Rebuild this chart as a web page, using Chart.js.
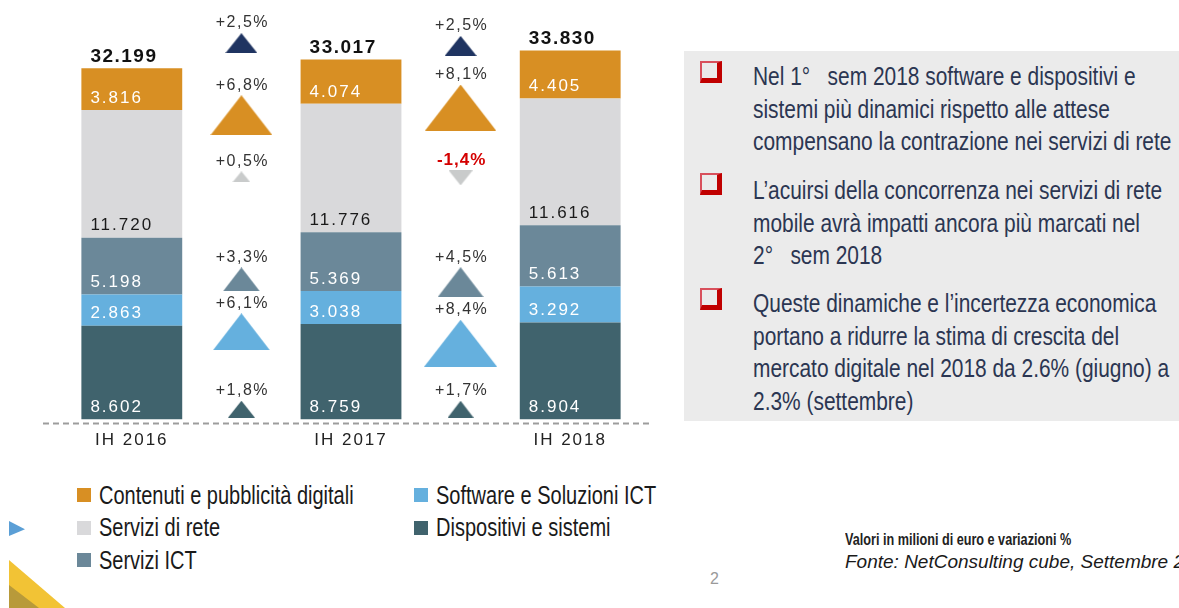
<!DOCTYPE html>
<html lang="it">
<head>
<meta charset="utf-8">
<title>Mercato digitale IH 2016-2018</title>
<script src="https://cdn.jsdelivr.net/npm/chart.js@4.4.1/dist/chart.umd.min.js"></script>
<style>
  html, body { margin: 0; padding: 0; background: #fff; }
  body { width: 1179px; height: 608px; position: relative; overflow: hidden; font-family: "Liberation Sans", Arial, sans-serif; }
  #chartBox { position: absolute; left: 0; top: 0; width: 680px; height: 470px; }
  #panel { position: absolute; left: 684px; top: 51px; width: 495px; height: 370px; background: #ebebeb; overflow: hidden; }
  .bullet { position: absolute; left: 16px; width: 15px; height: 15px; border: 2px solid #d8505c; border-right: 5px solid #c00000; border-bottom: 5px solid #c00000; }
  .narrow { transform-origin: 0 0; white-space: nowrap; }
  .para { position: absolute; left: 69px; font: 25.5px/32.5px "Liberation Sans", Arial, sans-serif; color: #2b3652; transform: scaleX(0.82); }
  #legend { position: absolute; left: 77px; top: 479px; display: grid; grid-template-columns: 337px auto; grid-template-rows: repeat(3, 32.5px); grid-auto-flow: column; }
  #legend div { display: flex; align-items: center; white-space: nowrap; }
  #legend span.box { display: inline-block; width: 14px; height: 14px; margin-right: 8px; flex: none; }
  #legend span.name { display: inline-block; font: 25px "Liberation Sans", Arial, sans-serif; color: #1a1a1a; transform: scaleX(0.8); transform-origin: 0 50%; }
  #unit { position: absolute; left: 845px; top: 531px; font: bold 16px "Liberation Sans", Arial, sans-serif; color: #222; transform: scaleX(0.79); }
  #source { position: absolute; left: 845px; top: 551px; font: italic 19px "Liberation Sans", Arial, sans-serif; color: #1a1a1a; white-space: nowrap; }
  #page { position: absolute; left: 710px; top: 570px; font: 16px "Liberation Sans", Arial, sans-serif; color: #9a9a9a; }
  .deco { position: absolute; }
</style>
</head>
<body>
<div id="chartBox"><canvas id="marketChart"></canvas></div>

<div id="panel">
  <div class="bullet" style="top:10px"></div>
  <div class="para narrow" style="top:9px">Nel 1°&nbsp;&nbsp; sem 2018 software e dispositivi e<br>sistemi più dinamici rispetto alle attese<br>compensano la contrazione nei servizi di rete</div>
  <div class="bullet" style="top:122px"></div>
  <div class="para narrow" style="top:123px">L’acuirsi della concorrenza nei servizi di rete<br>mobile avrà impatti ancora più marcati nel<br>2°&nbsp;&nbsp; sem 2018</div>
  <div class="bullet" style="top:237px"></div>
  <div class="para narrow" style="top:236px">Queste dinamiche e l’incertezza economica<br>portano a ridurre la stima di crescita del<br>mercato digitale nel 2018 da 2.6% (giugno) a<br>2.3% (settembre)</div>
</div>

<div id="legend"></div>
<div id="unit" class="narrow">Valori in milioni di euro e variazioni %</div>
<div id="source">Fonte: NetConsulting cube, Settembre 2018</div>
<div id="page">2</div>

<div class="deco" style="left:9px;top:521px;width:16px;height:15px;background:#5b9fd6;clip-path:polygon(0 0,100% 55%,0 100%)"></div>
<div class="deco" style="left:9px;top:560px;width:56px;height:48px;background:#f2c335;clip-path:polygon(0 0,100% 100%,0 100%)"></div>
<div class="deco" style="left:9px;top:585px;width:30px;height:23px;background:#b89a3a;clip-path:polygon(0 0,100% 100%,0 100%)"></div>

<script>
// categories on the x axis and the two change slots between them
const categories = ['IH 2016', 'IH 2017', 'IH 2018'];
const changeSlots = ['var. 2016-2017', 'var. 2017-2018'];

// values in millions of euro, bottom to top of each bar
const dispositivi = [8602, 8759, 8904];
const software = [2863, 3038, 3292];
const serviziICT = [5198, 5369, 5613];
const serviziRete = [11720, 11776, 11616];
const contenuti = [3816, 4074, 4405];
const totals = [32199, 33017, 33830];

// year on year change, %
const growthDispositivi = [1.8, 1.7];
const growthSoftware = [6.1, 8.4];
const growthICT = [3.3, 4.5];
const growthRete = [0.5, -1.4];
const growthContenuti = [6.8, 8.1];
const growthTotal = [2.5, 2.5];

// layout: vertical slot of each change marker, in axis units
const markerLevels = {
  dispositivi: [950, 950],
  software: [8050, 7000],
  ict: [12850, 12600],
  rete: [22250, 22150],
  contenuti: [27900, 28600],
  total: [34500, 34250]
};
const Y_MAX = 38000;

const series = [
  { label: 'Dispositivi e sistemi', values: dispositivi, growth: growthDispositivi, levels: markerLevels.dispositivi, color: '#40636d', marker: '#40636d', text: '#ffffff' },
  { label: 'Software e Soluzioni ICT', values: software, growth: growthSoftware, levels: markerLevels.software, color: '#65b0de', marker: '#65b0de', text: '#ffffff' },
  { label: 'Servizi ICT', values: serviziICT, growth: growthICT, levels: markerLevels.ict, color: '#6b8899', marker: '#6b8899', text: '#ffffff' },
  { label: 'Servizi di rete', values: serviziRete, growth: growthRete, levels: markerLevels.rete, color: '#d9d9db', marker: '#c9cbcb', text: '#1a1a1a' },
  { label: 'Contenuti e pubblicità digitali', values: contenuti, growth: growthContenuti, levels: markerLevels.contenuti, color: '#d88f23', marker: '#d88f23', text: '#ffffff' }
];
const legendOrder = [4, 3, 2, 1, 0];

const labels = [categories[0], changeSlots[0], categories[1], changeSlots[1], categories[2]];

function fmtValue(v) {
  return String(v).replace(/\B(?=(\d{3})+(?!\d))/g, '.');
}
function fmtGrowth(g) {
  return (g > 0 ? '+' : '') + g.toFixed(1).replace('.', ',') + '%';
}
function markerSize(g) {
  const w = 14 + 7 * Math.abs(g);
  return { w: w, h: w * 0.65 };
}

// triangle marker drawn on a small canvas, used as point style
const triCache = {};
function triangle(color, g) {
  const key = color + '_' + g;
  if (triCache[key]) return triCache[key];
  const s = markerSize(g);
  const c = document.createElement('canvas');
  c.width = Math.round(s.w);
  c.height = Math.round(s.h);
  const x = c.getContext('2d');
  x.fillStyle = color;
  x.beginPath();
  if (g >= 0) {
    x.moveTo(c.width / 2, 0); x.lineTo(c.width, c.height); x.lineTo(0, c.height);
  } else {
    x.moveTo(0, 0); x.lineTo(c.width, 0); x.lineTo(c.width / 2, c.height);
  }
  x.closePath();
  x.fill();
  triCache[key] = c;
  return c;
}

const onAxis = vals => labels.map(l => {
  const i = categories.indexOf(l);
  return i >= 0 ? vals[i] : null;
});

const barSets = series.map(s => ({
  type: 'bar',
  label: s.label,
  data: onAxis(s.values),
  backgroundColor: s.color,
  textColor: s.text,
  barPercentage: 0.92,
  categoryPercentage: 1.0
}));

const markerSet = (label, growth, levels, color) => ({
  type: 'scatter',
  label: label,
  yAxisID: 'yMarks',
  growth: growth,
  clip: false,
  data: changeSlots.map((slot, i) => ({ x: slot, y: levels[i] })),
  pointStyle: c => c.dataIndex === undefined ? 'circle' : triangle(color, growth[c.dataIndex]),
  backgroundColor: color,
  borderWidth: 0
});

const markerSets = series.map(s => markerSet(s.label + ' var.', s.growth, s.levels, s.marker));
markerSets.push(markerSet('Totale var.', growthTotal, markerLevels.total, '#1f3461'));

const annotate = {
  id: 'annotate',
  beforeDraw(chart) {
    chart.ctx.letterSpacing = '2px';
  },
  afterDatasetsDraw(chart) {
    const ctx = chart.ctx;
    const y = chart.scales.y;
    ctx.save();

    // dashed base line
    ctx.setLineDash([6, 4]);
    ctx.strokeStyle = '#9d9d9d';
    ctx.lineWidth = 2;
    ctx.beginPath();
    ctx.moveTo(43, y.getPixelForValue(0) + 4);
    ctx.lineTo(649, y.getPixelForValue(0) + 4);
    ctx.stroke();
    ctx.setLineDash([]);

    chart.data.datasets.forEach((ds, di) => {
      const meta = chart.getDatasetMeta(di);
      if (ds.type === 'scatter') {
        meta.data.forEach((pt, i) => {
          const g = ds.growth[i];
          const h = markerSize(g).h;
          ctx.font = (g < 0 ? 'bold 17px' : '16px') + ' "Liberation Sans"';
          ctx.fillStyle = g < 0 ? '#d40000' : '#333333';
          ctx.letterSpacing = g < 0 ? '1px' : '1.5px';
          ctx.textAlign = 'center';
          ctx.textBaseline = 'middle';
          ctx.fillText(fmtGrowth(g), pt.x + 1, pt.y - h / 2 - 10);
        });
      } else {
        meta.data.forEach((bar, i) => {
          const v = ds.data[i];
          if (v === null) return;
          ctx.font = '17px "Liberation Sans"';
          ctx.fillStyle = ds.textColor;
          ctx.letterSpacing = '2px';
          ctx.textAlign = 'left';
          ctx.textBaseline = 'middle';
          ctx.fillText(fmtValue(v), bar.x - bar.width / 2 + 9, bar.base - 12);
        });
      }
    });

    // totals above each bar
    const topMeta = chart.getDatasetMeta(series.length - 1);
    categories.forEach((c, i) => {
      const bar = topMeta.data[labels.indexOf(c)];
      ctx.font = 'bold 19px "Liberation Sans"';
      ctx.fillStyle = '#111111';
      ctx.letterSpacing = '1.5px';
      ctx.textAlign = 'left';
      ctx.textBaseline = 'middle';
      ctx.fillText(fmtValue(totals[i]), bar.x - bar.width / 2 + 9, bar.y - 12);
    });
    ctx.restore();
  }
};

const ctx = document.getElementById('marketChart').getContext('2d');
const chart = new Chart(ctx, {
  type: 'bar',
  data: { labels: labels, datasets: barSets.concat(markerSets) },
  options: {
    responsive: true,
    maintainAspectRatio: false,
    animation: false,
    events: [],
    layout: { padding: { left: 77, right: 55, top: 5, bottom: 8 } },
    plugins: { legend: { display: false }, tooltip: { enabled: false } },
    scales: {
      x: {
        stacked: true,
        grid: { display: false, drawTicks: false },
        border: { display: false },
        ticks: {
          padding: 11,
          maxRotation: 0,
          autoSkip: false,
          color: '#222222',
          font: { family: '"Liberation Sans"', size: 17 },
          callback(value) {
            const l = this.getLabelForValue(value);
            return categories.includes(l) ? l : '';
          }
        }
      },
      y: { stacked: true, display: false, min: 0, max: Y_MAX },
      yMarks: { display: false, min: 0, max: Y_MAX }
    }
  },
  plugins: [annotate]
});

// legend in two columns, built from the chart datasets
const legend = document.getElementById('legend');
legendOrder.forEach(i => {
  const ds = chart.data.datasets[i];
  const item = document.createElement('div');
  const box = document.createElement('span');
  box.className = 'box';
  box.style.background = ds.backgroundColor;
  const name = document.createElement('span');
  name.className = 'name';
  name.textContent = ds.label;
  item.appendChild(box);
  item.appendChild(name);
  legend.appendChild(item);
});
</script>
</body>
</html>
